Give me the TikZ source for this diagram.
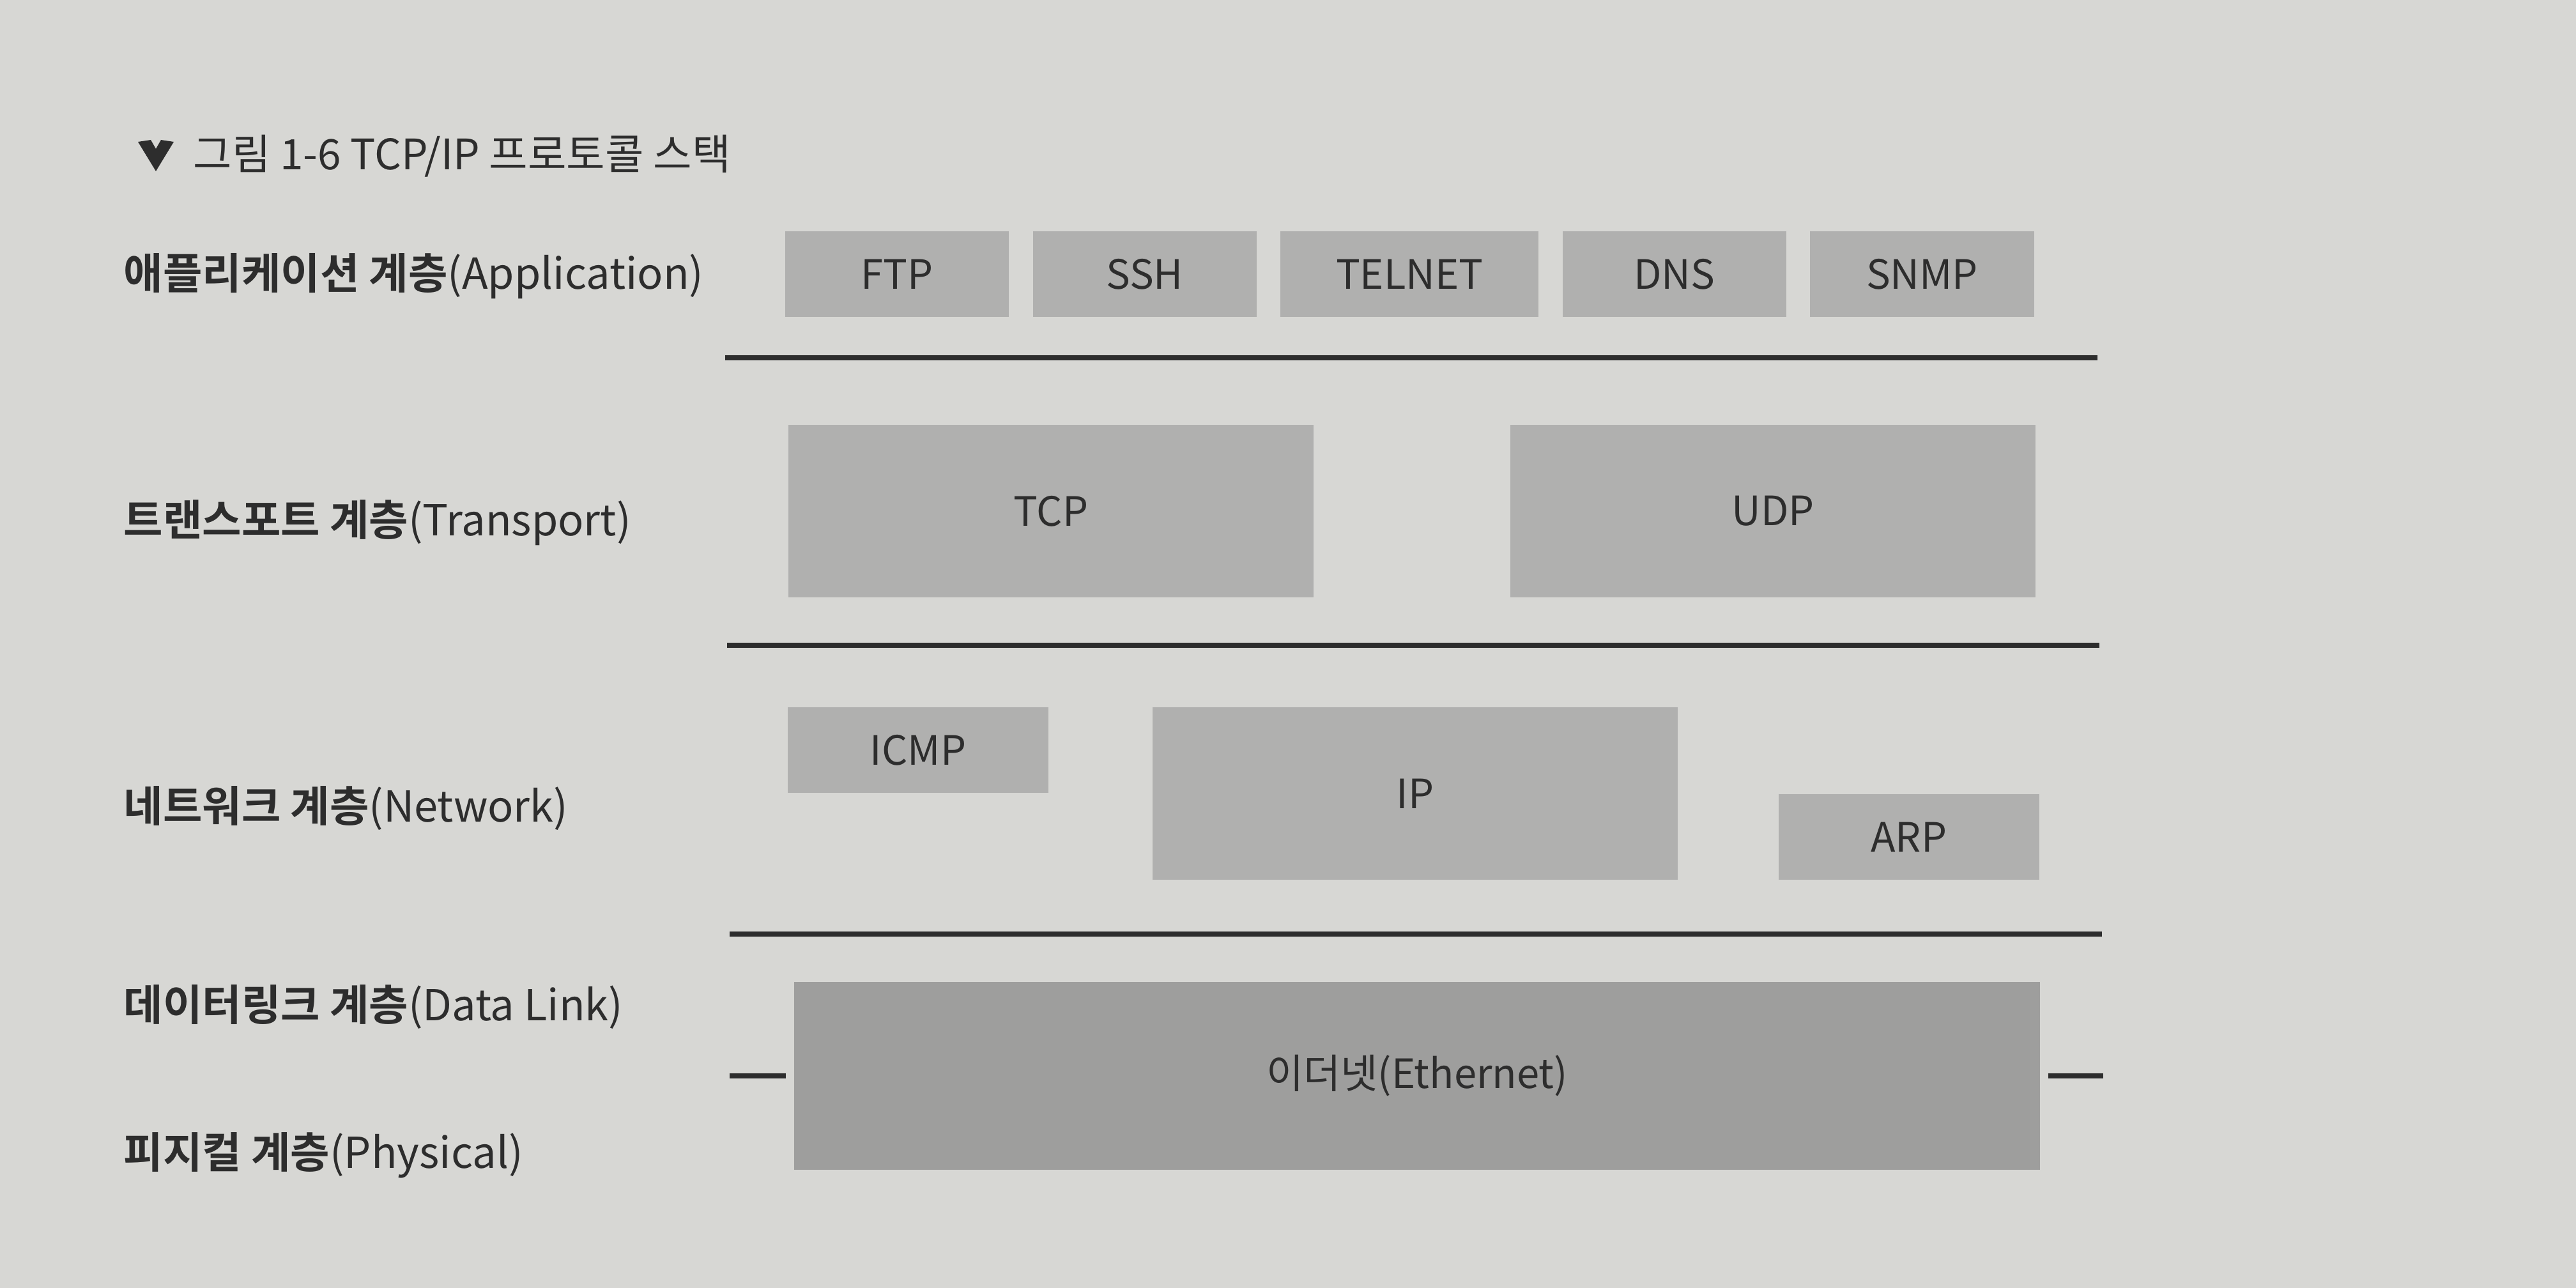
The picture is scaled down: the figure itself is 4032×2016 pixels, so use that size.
\documentclass[tikz,border=0pt]{standalone}
\usepackage{fontspec}
\setmainfont{Noto Sans CJK KR}[BoldFont={Noto Sans CJK KR Bold}]
\usepackage{tikz}
\usetikzlibrary{positioning}
\definecolor{paper}{RGB}{215,215,212}
\definecolor{boxgray}{RGB}{176,176,175}
\definecolor{ethgray}{RGB}{158,158,157}
\definecolor{inkgray}{RGB}{45,45,45}
\tikzstyle{protobox}=[fill=boxgray,%
                      rectangle,%
                      inner sep=0pt,%
                      text=inkgray,%
                      font=\fontsize{18pt}{22pt}\selectfont,%
                      minimum width=3.5cm,%
                      minimum height=1.34cm]
\tikzstyle{widebox}=[protobox, minimum width=8.22cm, minimum height=2.7cm]
\tikzstyle{linkbox}=[protobox, fill=ethgray, minimum width=19.49cm, minimum height=2.94cm]
\tikzstyle{layerlabel}=[anchor=west, inner sep=0pt, text=inkgray, font=\fontsize{19pt}{23pt}\selectfont]
\tikzstyle{titletext}=[anchor=west, inner sep=0pt, text=inkgray, font=\fontsize{18.7pt}{22pt}\selectfont]
\tikzstyle{rule}=[draw=inkgray, line width=2pt]

\begin{document}
\begin{tikzpicture}[x=0.01cm,y=-0.01cm]
  \useasboundingbox (0,0) rectangle (4032,2016);
  \fill[paper] (0,0) rectangle (4032,2016);
  % title
  \fill[inkgray] (216,222) -- (236,219) -- (244,233) -- (252,219) -- (272,222) -- (244,268) -- cycle;
  \node[titletext] (title) at (302,244) {그림 1-6 TCP/IP 프로토콜 스택};
  % layer names
  \node[layerlabel] (app)  at (193,432)  {\textbf{애플리케이션 계층}(Application)};
  \node[layerlabel] (trn)  at (193,818)  {\textbf{트랜스포트 계층}(Transport)};
  \node[layerlabel] (net)  at (193,1265) {\textbf{네트워크 계층}(Network)};
  \node[layerlabel] (dlnk) at (193,1576) {\textbf{데이터링크 계층}(Data Link)};
  \node[layerlabel] (phy)  at (193,1808) {\textbf{피지컬 계층}(Physical)};
  % application
  \node[protobox] (ftp) at (1404,429) {FTP};
  \node[protobox][right=0.36cm of ftp] (ssh) {SSH};
  \node[protobox][right=0.36cm of ssh, minimum width=4.04cm] (telnet) {TELNET};
  \node[protobox][right=0.36cm of telnet] (dns) {DNS};
  \node[protobox][right=0.36cm of dns] (snmp) {SNMP};
  % transport
  \node[widebox] (tcp) at (1645,800) {TCP};
  \node[widebox][right=3.06cm of tcp] (udp) {UDP};
  % network
  \node[widebox] (ip) at (2215,1242) {IP};
  \node[protobox][minimum width=4.08cm, left=1.61cm of ip.north west, anchor=north east] (icmp) {ICMP};
  \node[protobox][minimum width=4.08cm, right=1.56cm of ip.south east, anchor=south west] (arp) {ARP};
  % data link / physical
  \node[linkbox] (eth) at (2218,1684) {이더넷(Ethernet)};
  % separators
  \coordinate (s1a) at (1135,560);  \coordinate (s1b) at (3283,560);
  \coordinate (s2a) at (1138,1010); \coordinate (s2b) at (3286,1010);
  \coordinate (s3a) at (1142,1462); \coordinate (s3b) at (3290,1462);
  \coordinate (dl) at (1142,1684);  \coordinate (dr) at (3292,1684);
  \draw[rule] (s1a) -- (s1b);
  \draw[rule] (s2a) -- (s2b);
  \draw[rule] (s3a) -- (s3b);
  \draw[rule] (dl) -- ([xshift=-0.12cm]eth.west);
  \draw[rule] ([xshift=0.12cm]eth.east) -- (dr);
\end{tikzpicture}
\end{document}
